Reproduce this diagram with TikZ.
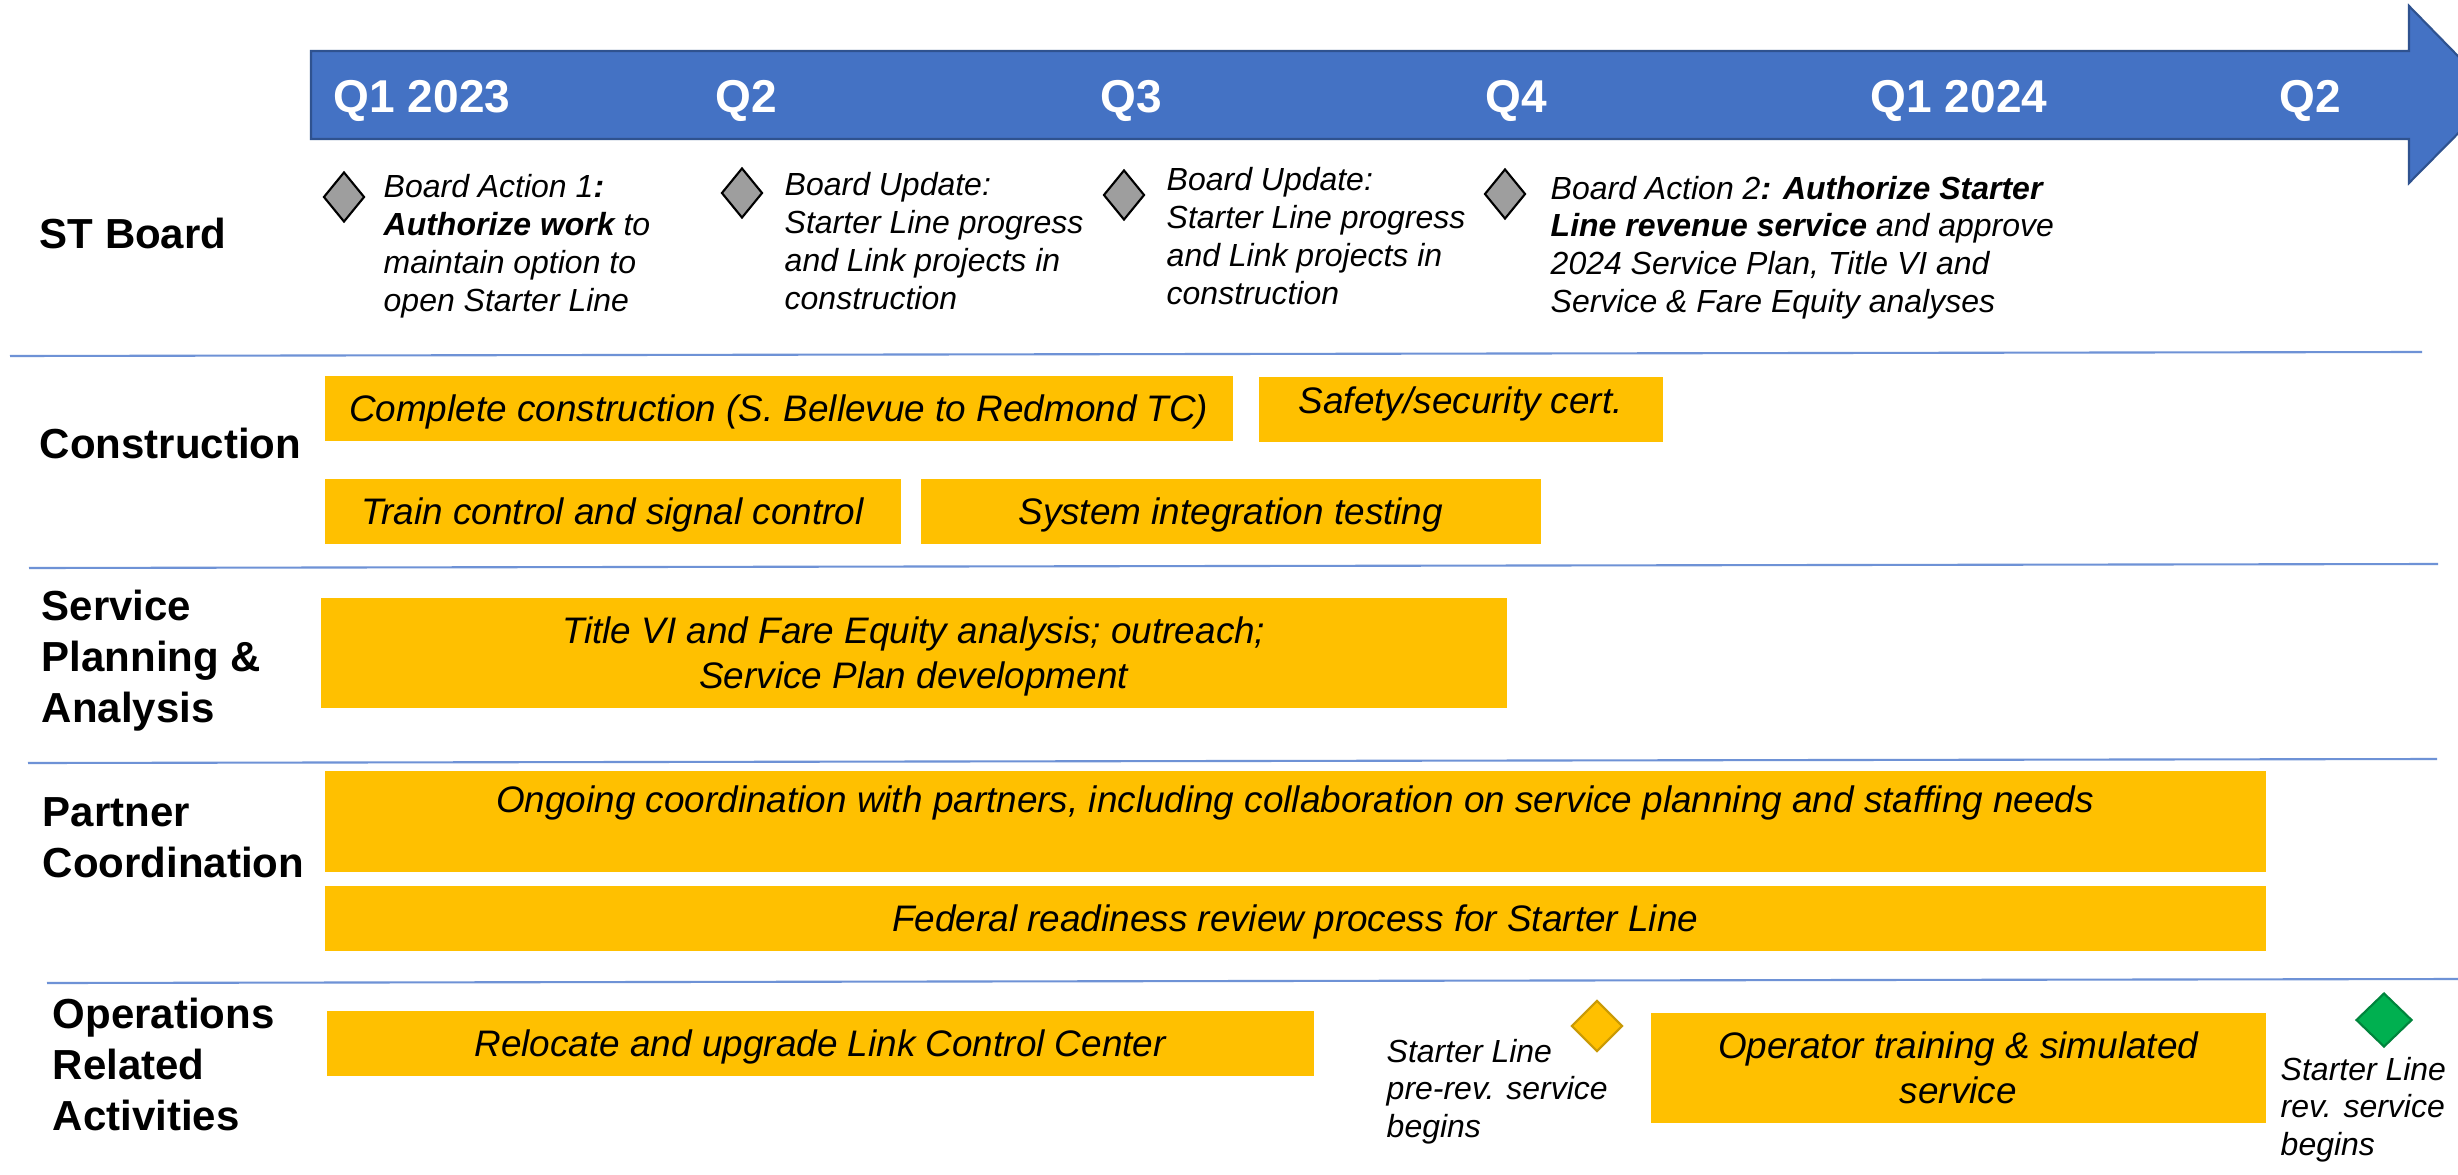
\documentclass[tikz,border=0pt]{standalone}
\usepackage{fontspec}
\setmainfont{Liberation Sans}
\usepackage{tikz}
\usetikzlibrary{shapes.geometric}
\usetikzlibrary{positioning}

\definecolor{arrowblue}{HTML}{4472C4}
\definecolor{arrowedge}{HTML}{2F528F}
\definecolor{baryellow}{HTML}{FFC000}
\definecolor{goldedge}{HTML}{C99A06}
\definecolor{msgray}{HTML}{9E9E9E}
\definecolor{msgreen}{HTML}{00B050}
\definecolor{greenedge}{HTML}{00843C}
\definecolor{rulecol}{HTML}{6E92D6}

\tikzset{
    quarter/.style={
           anchor=base west,
           inner sep=0pt,
           text=white,
           font=\fontsize{13.1}{15}\selectfont\bfseries,
           },
    rowlabel/.style={
           anchor=base west,
           inner sep=0pt,
           font=\fontsize{11.95}{14.65}\selectfont\bfseries,
           },
    bar/.style={
           rectangle,
           fill=baryellow,
           anchor=north west,
           inner sep=0pt,
           align=center,
           text depth=0pt,
           font=\fontsize{10.5}{12.8}\selectfont\itshape,
           },
    milestone/.style={
           diamond,
           draw=black, line width=0.6pt,
           fill=msgray,
           inner sep=0pt,
           minimum width=4.1mm,
           minimum height=5mm,
           },
    note/.style={
           anchor=base west,
           inner sep=0pt,
           font=\fontsize{9.1}{10.8}\selectfont\itshape,
           },
    divider/.style={draw=rulecol, line width=0.6pt},
}

\begin{document}
\begin{tikzpicture}[x=0.1mm,y=-0.1mm]

 % canvas (pixel grid of the slide)
 \fill[white] (0,0) rectangle (2458,1174);
 \useasboundingbox (0,0) rectangle (2458,1174);
 \clip (0,0) rectangle (2458,1174);

 % Timeline arrow with the quarters on it
 \draw[draw=arrowedge, line width=0.6pt, fill=arrowblue]
   (311,51) -- (2409,51) -- (2409,6) -- (2496,95) -- (2409,183)
   -- (2409,139) -- (311,139) -- cycle;
 \node[quarter] (q1a) at (333,113) {Q1 2023};
 \node[quarter] (q2a) at (715,113) {Q2};
 \node[quarter] (q3a) at (1100,113) {Q3};
 \node[quarter] (q4a) at (1485,113) {Q4};
 \node[quarter] (q1b) at (1870,113) {Q1 2024};
 \node[quarter] (q2b) at (2279,113) {Q2};

 % row separators
 \draw[divider] (10,356) -- (2422,352);
 \draw[divider] (29,568) -- (2438,564);
 \draw[divider] (28,763) -- (2437,759);
 \draw[divider] (47,983) -- (2458,979);

 % Row titles on the left
 \node[rowlabel] (stboard) at (39,248) {ST Board};
 \node[rowlabel] (constr) at (39,458) {Construction};
 \node[rowlabel] (servplan) at (41,620)
 {\begin{tabular}[t]{@{}l@{}}Service\\Planning \&\\Analysis\end{tabular}};
 \node[rowlabel] (partner) at (42,826)
 {\begin{tabular}[t]{@{}l@{}}Partner\\Coordination\end{tabular}};
 \node[rowlabel] (ops) at (52,1028)
 {\begin{tabular}[t]{@{}l@{}}Operations\\Related\\Activities\end{tabular}};

 % ST Board: milestones + their notes
 \node[milestone] (ms1) at (344,197) {};
 \node[note] (ba1) at (383,198)
 {\begin{tabular}[t]{@{}l@{}}
  Board Action 1\textbf{:}\\
  \textbf{Authorize work} to\\
  maintain option to\\
  open Starter Line
 \end{tabular}};

 \node[milestone] (ms2) at (742,193) {};
 \node[note] (bu1) at (784,196)
 {\begin{tabular}[t]{@{}l@{}}
  Board Update:\\
  Starter Line progress\\
  and Link projects in\\
  construction
 \end{tabular}};

 \node[milestone] (ms3) at (1124,195) {};
 \node[note] (bu2) at (1166,191)
 {\begin{tabular}[t]{@{}l@{}}
  Board Update:\\
  Starter Line progress\\
  and Link projects in\\
  construction
 \end{tabular}};

 \node[milestone] (ms4) at (1505,194) {};
 \node[note] (ba2) at (1550,199)
 {\begin{tabular}[t]{@{}l@{}}
  Board Action 2\textbf{: Authorize Starter}\\
  \textbf{Line revenue service} and approve\\
  2024 Service Plan, Title VI and\\
  Service \& Fare Equity analyses
 \end{tabular}};

 % Construction bars
 \node[bar, minimum width=90.8mm, minimum height=6.5mm] (complete) at (324,375)
 {Complete construction (S. Bellevue to Redmond TC)};
 \node[bar, text depth=5pt, minimum width=40.4mm, minimum height=6.5mm] (safety) at (1258,376)
 {Safety/security cert.};
 \node[bar, minimum width=57.6mm, minimum height=6.5mm] (train) at (324,478)
 {Train control and signal control};
 \node[bar, minimum width=62mm, minimum height=6.5mm] (sysint) at (920,478)
 {System integration testing};

 % Service planning bar
 \node[bar, minimum width=118.6mm, minimum height=11mm] (titlevi) at (320,597)
 {Title VI and Fare Equity analysis; outreach;\\Service Plan development};

 % Partner coordination bars
 \node[bar, minimum width=194.1mm, minimum height=10.1mm] (ongoing) at (324,770)
 {Ongoing coordination with partners, including collaboration on service planning and staffing needs\\\mbox{}};
 \node[bar, minimum width=194.1mm, minimum height=6.5mm] (federal) at (324,885)
 {Federal readiness review process for Starter Line};

 % Operations bars and milestones
 \node[bar, minimum width=98.7mm, minimum height=6.5mm] (relocate) at (326,1010)
 {Relocate and upgrade Link Control Center};
 \node[milestone, fill=baryellow, draw=goldedge,
  minimum width=5.1mm, minimum height=5.1mm] (prerev) at (1597,1026) {};
 \node[note] (prerevtxt) at (1386,1062)
 {\begin{tabular}[t]{@{}l@{}}Starter Line\\pre-rev. service\\begins\end{tabular}};
 \node[bar, minimum width=61.5mm, minimum height=11mm] (operator) at (1650,1012)
 {Operator training \& simulated\\service};
 \node[milestone, fill=msgreen, draw=greenedge,
  minimum width=5.6mm, minimum height=5.4mm] (revsvc) at (2384,1020) {};
 \node[note] (revsvctxt) at (2280,1080)
 {\begin{tabular}[t]{@{}l@{}}Starter Line\\rev. service\\begins\end{tabular}};

\end{tikzpicture}
\end{document}
